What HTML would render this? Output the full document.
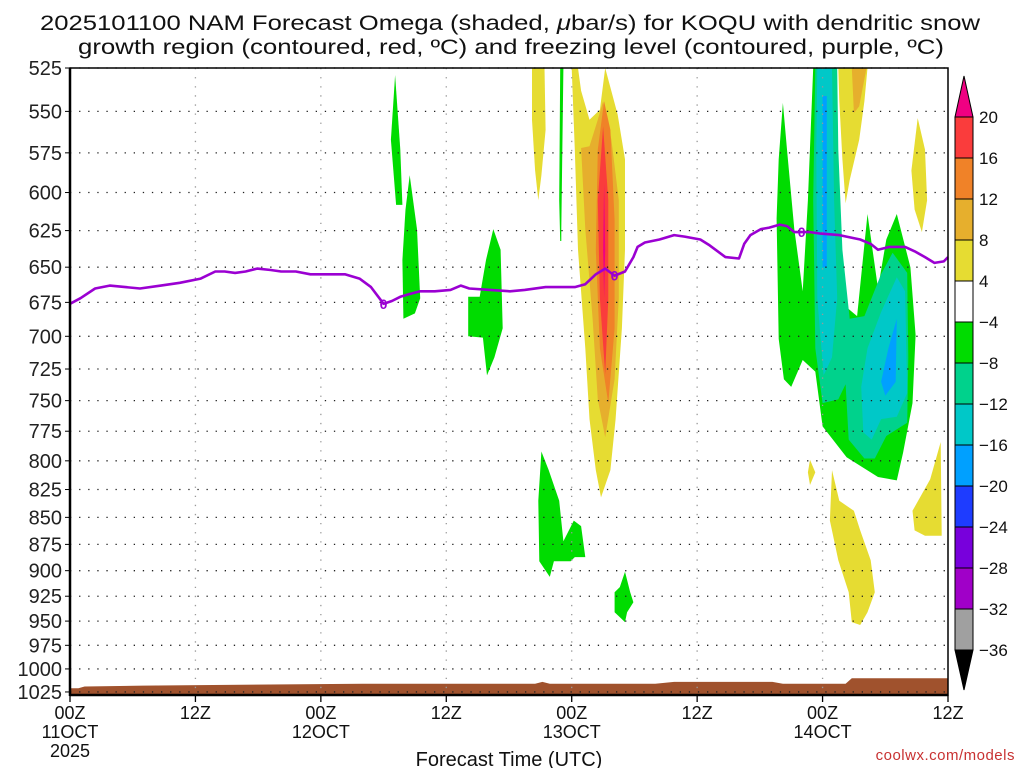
<!DOCTYPE html>
<html><head><meta charset="utf-8"><style>
html,body{margin:0;padding:0;background:#fff;}
svg{display:block;font-family:"Liberation Sans","DejaVu Sans",sans-serif;}
</style></head><body>
<svg id="chart" width="1024" height="768" viewBox="0 0 1024 768" xmlns="http://www.w3.org/2000/svg">
<rect width="1024" height="768" fill="#fff"/>
<text x="40" y="30" font-size="21" textLength="940" lengthAdjust="spacingAndGlyphs" fill="#111">2025101100 NAM Forecast Omega (shaded, <tspan font-style="italic">μ</tspan>bar/s) for KOQU with dendritic snow</text>
<text x="78" y="54" font-size="21" textLength="866" lengthAdjust="spacingAndGlyphs" fill="#111">growth region (contoured, red, ºC) and freezing level (contoured, purple, ºC)</text>
<g id="shade"></g>
<g id="ground"></g>
<g id="grid"></g>
<g id="fz"></g>
<g id="axes"></g>
<g id="cbar"></g>
<text x="509" y="766" font-size="20" text-anchor="middle" fill="#111">Forecast Time (UTC)</text>
<text x="1015" y="760" font-size="15" text-anchor="end" fill="#c83232" letter-spacing="0.5">coolwx.com/models</text>
</svg>
<script>
// ---- data ----
const pressureTicks = [525,550,575,600,625,650,675,700,725,750,775,800,825,850,875,900,925,950,975,1000,1025];
const timeTickHours = [0,12,24,36,48,60,72,84];
const timeTickLabels = ["00Z","12Z","00Z","12Z","00Z","12Z","00Z","12Z"];
const dateLabelHours = [0,24,48,72];
const dateLabels = ["11OCT","12OCT","13OCT","14OCT"];
const cbarLevels = [20,16,12,8,4,-4,-8,-12,-16,-20,-24,-28,-32,-36];
const cbarColors = ["#fa3c3c","#f08228","#e6af2d","#e6dc32","#ffffff","#00dc00","#00d28c","#00c8c8","#00a0ff","#1e3cff","#7800dc","#a000c8","#a0a0a0"];
const shadeColor = {"4":"#e6dc32","8":"#e6af2d","12":"#f08228","16":"#fa3c3c","20":"#f00082","-4":"#00dc00","-8":"#00d28c","-12":"#00c8c8","-16":"#00a0ff"};
// omega contour regions: level + [[forecast hour, hPa],...]
const regionLevels = ["4","4","8","12","16","20","-4","-4","-4","-4","-4","-4","-4","4","8","4","4","4","4","-8","-12","-12","-16","-16"];
const regionShapes = [
 [[44.2,525],[45.4,525],[45.5,561],[45.1,589],[44.8,605],[44.5,586],[44.2,555]],
 [[48.0,525],[48.3,573],[48.6,638],[49.3,709],[49.7,765],[50.3,808],[50.8,832],[51.7,808],[52.2,765],[52.8,694],[53.1,638],[53.1,579],[52.4,552],[51.2,525],[50.7,549],[49.7,555],[48.9,538],[48.6,525]],
 [[51.0,544],[51.8,567],[52.5,605],[52.5,672],[52.1,733],[51.2,780],[50.5,749],[50.0,687],[49.3,624],[48.9,572],[49.7,571],[50.5,555]],
 [[51.1,544],[51.7,561],[52.1,618],[52.1,694],[51.5,752],[50.7,709],[50.3,638],[50.5,573]],
 [[51.0,559],[51.5,605],[51.5,672],[51.2,729],[50.7,672],[50.5,605]],
 [[51.1,594],[51.2,638],[51.1,672],[51.0,638]],
 [[46.9,525],[47.2,525],[47.0,624],[47.0,632],[46.9,632],[46.8,605]],
 [[31.1,529],[31.6,573],[31.8,608],[31.2,608],[30.7,567]],
 [[32.5,589],[33.2,624],[33.5,672],[33.0,683],[31.9,687],[31.8,645],[32.1,611]],
 [[40.5,624],[41.2,638],[41.4,694],[40.6,716],[39.9,730],[39.5,701],[38.1,700],[38.1,671],[39.2,671],[39.8,645]],
 [[45.1,792],[45.8,808],[46.8,835],[47.2,872],[48.2,853],[48.9,858],[49.3,887],[48.3,887],[47.9,891],[46.3,891],[45.9,906],[44.9,891],[44.8,835]],
 [[53.1,901],[53.6,921],[53.9,931],[53.3,941],[53.1,951],[52.1,941],[52.1,921],[52.6,916]],
 [[71.1,525],[70.6,605],[70.1,667],[69.3,624],[68.6,573],[68.2,545],[67.8,579],[67.6,617],[67.8,702],[68.3,733],[69.0,739],[70.1,718],[71.3,727],[72.0,771],[74.3,797],[77.3,814],[79.1,817],[79.7,793],[80.6,752],[80.9,699],[80.4,650],[79.1,614],[78.1,631],[77.3,665],[76.3,614],[75.3,685],[74.2,678],[73.4,624],[73.1,573],[73.1,525]],
 [[73.5,525],[76.3,525],[76.0,544],[75.5,567],[74.6,592],[74.2,607],[73.9,579],[73.6,544]],
 [[74.8,525],[76.2,525],[75.5,547],[75.0,551],[74.9,538]],
 [[81.1,554],[81.8,573],[82.0,605],[81.5,626],[80.8,611],[80.5,586]],
 [[83.3,784],[83.4,867],[81.8,867],[80.8,862],[80.6,844],[82.3,816]],
 [[72.9,808],[73.6,835],[75.0,844],[75.6,862],[76.6,890],[77.0,921],[76.3,941],[75.6,954],[74.8,951],[74.5,921],[73.5,890],[72.7,853]],
 [[70.8,799],[71.3,810],[70.8,821],[70.6,810]],
 [[71.3,525],[73.4,525],[73.5,573],[73.9,638],[74.6,687],[76.0,685],[77.6,655],[78.7,640],[80.1,654],[80.2,716],[80.1,768],[78.1,779],[77.0,798],[76.0,798],[74.5,782],[74.2,737],[73.5,749],[72.0,752],[71.3,709],[71.1,605]],
 [[71.5,525],[72.9,525],[73.1,605],[73.4,672],[72.9,716],[72.1,730],[71.5,672],[71.4,573]],
 [[79.1,657],[79.9,667],[80.1,744],[79.1,763],[77.6,765],[76.7,782],[75.9,776],[75.7,739],[76.3,709],[77.6,682]],
 [[72.0,541],[72.4,541],[72.4,650],[72.0,650]],
 [[79.1,687],[79.0,735],[78.0,746],[77.6,735],[78.3,709]]
];
// freezing level (0 C) contour
const fzHours = [0,1.0,2.4,3.8,5.3,6.7,8.7,10.5,12.5,13.9,14.8,15.8,16.8,17.9,19.2,20.2,21.6,23.0,24.9,26.3,27.7,28.8,30.0,30.8,31.6,32.5,33.5,34.9,36.4,37.4,38.2,40.2,42.1,43.5,45.5,46.9,48.3,49.3,50.3,51.2,52.1,53.1,53.9,54.3,55.0,56.4,57.8,58.8,60.3,61.2,62.7,64.0,64.5,65.1,66.1,66.9,67.9,68.6,69.3,70.0,70.8,71.8,73.6,75.6,76.6,77.3,78.4,79.9,80.8,81.8,82.7,83.6,84.0];
const fzPres = [676,672,665,663,664,665,663,661,658,653,653,654,653,651,652,653,653,655,655,655,658,664,676,674,671,669,667,667,666,663,665,666,667,666,664,664,664,662,655,651,656,653,643,636,633,631,628,629,631,635,643,644,634,628,624,623,621,622,626,626,626,627,628,631,634,638,636,636,639,643,647,646,643];
const fzLabelHours = [30.0,52.1,70.0];
const fzLabelPres = [676,656,626];
// surface pressure (ground)
const sfcHours = [0,0.8,1.4,7,28,44.5,45.2,45.9,56,57.8,67.2,68.2,74.2,74.8,84];
const sfcPres = [1021,1021,1019,1018,1016,1016,1014,1016,1016,1014,1014,1016,1016,1010,1010];

// ---- scales ----
const X0=70, X1=948, Y0=68, Y1=695, HMAX=84;
const xScale = h => X0 + h*(X1-X0)/HMAX;
const yScale = p => Y0 + 932.6*Math.log(p/525);
const NS="http://www.w3.org/2000/svg";
function mk(tag, parent, attrs){const e=document.createElementNS(NS,tag);for(const k in attrs)e.setAttribute(k,attrs[k]);parent.appendChild(e);return e;}
const pts = arr => arr.map(d=>xScale(d[0]).toFixed(1)+","+yScale(d[1]).toFixed(1)).join(" ");

const defs=mk("defs",document.getElementById("chart"),{});
const cp=mk("clipPath",defs,{id:"plotclip"});
mk("rect",cp,{x:X0,y:Y0,width:X1-X0,height:Y1-Y0});

// shading
const shade=document.getElementById("shade");
shade.setAttribute("clip-path","url(#plotclip)");
regionShapes.forEach((s,i)=>{
  const pg=mk("polygon",shade,{points:pts(s),fill:shadeColor[regionLevels[i]]});
  
  
});

// ground
const gGroup=document.getElementById("ground");
const gp=sfcHours.map((h,i)=>xScale(h).toFixed(1)+","+yScale(sfcPres[i]).toFixed(1));
gp.push(X1+","+Y1, X0+","+Y1);
const gpoly=mk("polygon",gGroup,{points:gp.join(" "),fill:"#a0522d"});



// grid
const grid=document.getElementById("grid");
pressureTicks.forEach(p=>{
  const y=yScale(p);
  const l=mk("line",grid,{x1:X0,x2:X1,y1:y,y2:y,stroke:"#222","stroke-width":1.3,"stroke-dasharray":"1.3 7.8"});
  
  
});
timeTickHours.forEach(h=>{
  if(h<=0||h>=HMAX) return;
  const x=xScale(h);
  const l=mk("line",grid,{x1:x,x2:x,y1:Y0,y2:Y1,stroke:"#999","stroke-width":1.3,"stroke-dasharray":"1.3 7.8"});
  
  
});

// freezing line
const fzG=document.getElementById("fz");
const fzl=mk("polyline",fzG,{points:fzHours.map((h,i)=>xScale(h).toFixed(1)+","+yScale(fzPres[i]).toFixed(1)).join(" "),fill:"none",stroke:"#9b00d2","stroke-width":2.6,"stroke-linejoin":"round"});


fzLabelHours.forEach((h,i)=>{
  const t=mk("text",fzG,{x:xScale(h),y:yScale(fzLabelPres[i])+5,"font-size":14,"font-weight":"bold","text-anchor":"middle",fill:"#9b00d2"});
  t.textContent="0";
  
  
});

// axes
const ax=document.getElementById("axes");
const fr=mk("rect",ax,{x:X0,y:Y0,width:X1-X0,height:Y1-Y0,fill:"none",stroke:"#000","stroke-width":1.5});


mk("line",ax,{x1:X0,x2:X0,y1:Y0,y2:Y1+1,stroke:"#000","stroke-width":2.5});
mk("line",ax,{x1:X0,x2:X1,y1:Y1,y2:Y1,stroke:"#000","stroke-width":2.5});
pressureTicks.forEach(p=>{
  const y=yScale(p);
  mk("line",ax,{x1:X0-5,x2:X0,y1:y,y2:y,stroke:"#000","stroke-width":1});
  const t=mk("text",ax,{x:X0-8,y:y+7,"font-size":20,"text-anchor":"end",fill:"#222"});
  t.textContent=p;
  
  
});
timeTickHours.forEach((h,i)=>{
  const x=xScale(h);
  mk("line",ax,{x1:x,x2:x,y1:Y1,y2:Y1+7,stroke:"#000","stroke-width":1.3});
  const t=mk("text",ax,{x:x,y:719,"font-size":18,"text-anchor":"middle",fill:"#111"});
  t.textContent=timeTickLabels[i];
  
  
});
dateLabels.forEach((s,i)=>{
  const t=mk("text",ax,{x:xScale(dateLabelHours[i]),y:738,"font-size":18,"text-anchor":"middle",fill:"#111"});
  t.textContent=s;
  
  
});
const yr=mk("text",ax,{x:X0,y:757,"font-size":18,"text-anchor":"middle",fill:"#111"});
yr.textContent="2025";



// colorbar
const cb=document.getElementById("cbar");
const CX0=955, CX1=973, CTOP=117, STEP=41;
const arrowUp=mk("polygon",cb,{points:`${CX0},${CTOP} ${CX1},${CTOP} ${(CX0+CX1)/2},76`,fill:"#f00082",stroke:"#000","stroke-width":1});


cbarColors.forEach((c,i)=>{
  const r=mk("rect",cb,{x:CX0,y:CTOP+i*STEP,width:CX1-CX0,height:STEP,fill:c,stroke:"#000","stroke-width":1});
  
  
});
const yb=CTOP+cbarColors.length*STEP;
const arrowDown=mk("polygon",cb,{points:`${CX0},${yb} ${CX1},${yb} ${(CX0+CX1)/2},690`,fill:"#000",stroke:"#000","stroke-width":1});


cbarLevels.forEach((v,i)=>{
  const t=mk("text",cb,{x:979,y:CTOP+i*STEP+6,"font-size":17,fill:"#111"});
  t.textContent=v<0?"\u2212"+(-v):String(v);
  
  
});
</script>
</body></html>
